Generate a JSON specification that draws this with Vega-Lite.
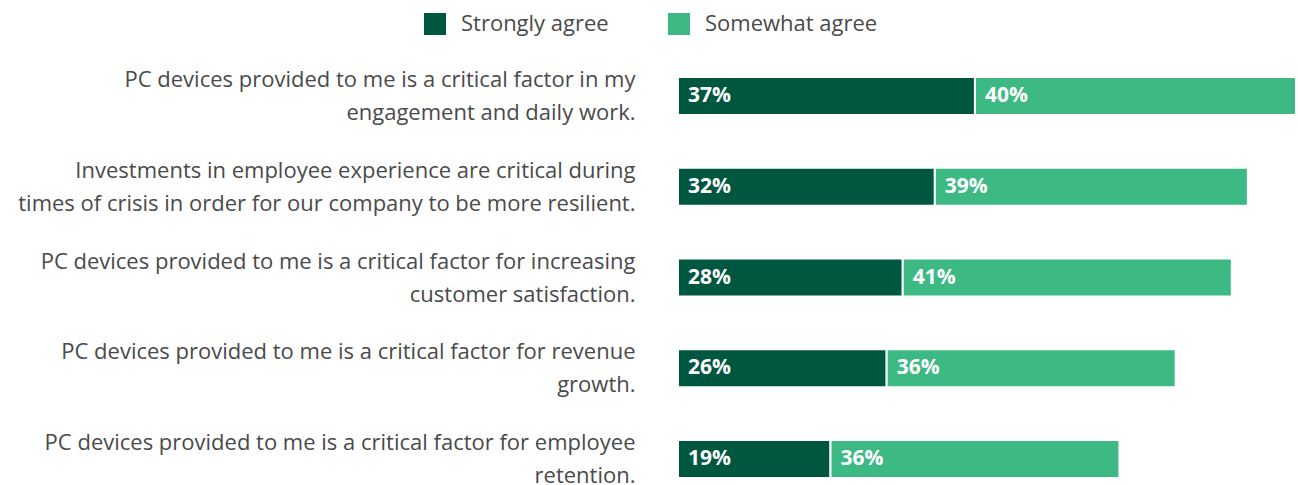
{
  "$schema": "https://vega.github.io/schema/vega-lite/v6.json",
  "width": 618,
  "height": 401,
  "autosize": "none",
  "padding": {"left": 678, "top": 77, "right": 2, "bottom": 7},
  "config": {"view": {"stroke": null}, "font": "Open Sans"},
  "data": {
    "values": [
      {"q": "PC devices provided to me is a critical factor in my|engagement and daily work.", "cat": "Strongly agree", "order": 1, "value": 0.37},
      {"q": "PC devices provided to me is a critical factor in my|engagement and daily work.", "cat": "Somewhat agree", "order": 2, "value": 0.40},
      {"q": "Investments in employee experience are critical during|times of crisis in order for our company to be more resilient.", "cat": "Strongly agree", "order": 1, "value": 0.32},
      {"q": "Investments in employee experience are critical during|times of crisis in order for our company to be more resilient.", "cat": "Somewhat agree", "order": 2, "value": 0.39},
      {"q": "PC devices provided to me is a critical factor for increasing|customer satisfaction.", "cat": "Strongly agree", "order": 1, "value": 0.28},
      {"q": "PC devices provided to me is a critical factor for increasing|customer satisfaction.", "cat": "Somewhat agree", "order": 2, "value": 0.41},
      {"q": "PC devices provided to me is a critical factor for revenue|growth.", "cat": "Strongly agree", "order": 1, "value": 0.26},
      {"q": "PC devices provided to me is a critical factor for revenue|growth.", "cat": "Somewhat agree", "order": 2, "value": 0.36},
      {"q": "PC devices provided to me is a critical factor for employee|retention.", "cat": "Strongly agree", "order": 1, "value": 0.19},
      {"q": "PC devices provided to me is a critical factor for employee|retention.", "cat": "Somewhat agree", "order": 2, "value": 0.36}
    ]
  },
  "transform": [
    {"stack": "value", "groupby": ["q"], "sort": [{"field": "order", "order": "ascending"}], "as": ["v0", "v1"]}
  ],
  "encoding": {
    "y": {
      "field": "q",
      "type": "nominal",
      "sort": null,
      "scale": {"paddingInner": 0.581, "paddingOuter": 0},
      "axis": {
        "title": null,
        "domain": false,
        "ticks": false,
        "labelExpr": "split(datum.label, '|')",
        "labelFontSize": 22,
        "labelLineHeight": 33,
        "labelOffset": -16,
        "labelColor": "#4a4a4a",
        "labelPadding": 43,
        "labelLimit": 700
      }
    }
  },
  "layer": [
    {
      "mark": {"type": "bar", "stroke": "white", "strokeWidth": 2},
      "encoding": {
        "x": {"field": "v0", "type": "quantitative", "scale": {"domain": [0, 0.77], "nice": false}, "axis": null},
        "x2": {"field": "v1"},
        "color": {
          "field": "cat",
          "type": "nominal",
          "sort": ["Strongly agree", "Somewhat agree"],
          "scale": {"domain": ["Strongly agree", "Somewhat agree"], "range": ["#00573F", "#3DB984"]},
          "legend": {
            "title": null,
            "orient": "none",
            "direction": "horizontal",
            "legendX": -254,
            "legendY": -64,
            "symbolType": "square",
            "symbolSize": 484,
            "symbolStrokeWidth": 0,
            "symbolOpacity": 1,
            "labelFontSize": 22,
            "labelColor": "#4a4a4a",
            "labelOffset": 15,
            "columnPadding": 59,
            "labelLimit": 400
          }
        }
      }
    },
    {
      "mark": {"type": "text", "align": "left", "baseline": "middle", "dx": 10, "color": "white", "fontWeight": "bold", "fontSize": 21},
      "encoding": {
        "x": {"field": "v0", "type": "quantitative"},
        "text": {"field": "value", "type": "quantitative", "format": ".0%"},
        "detail": {"field": "cat"}
      }
    }
  ]
}
